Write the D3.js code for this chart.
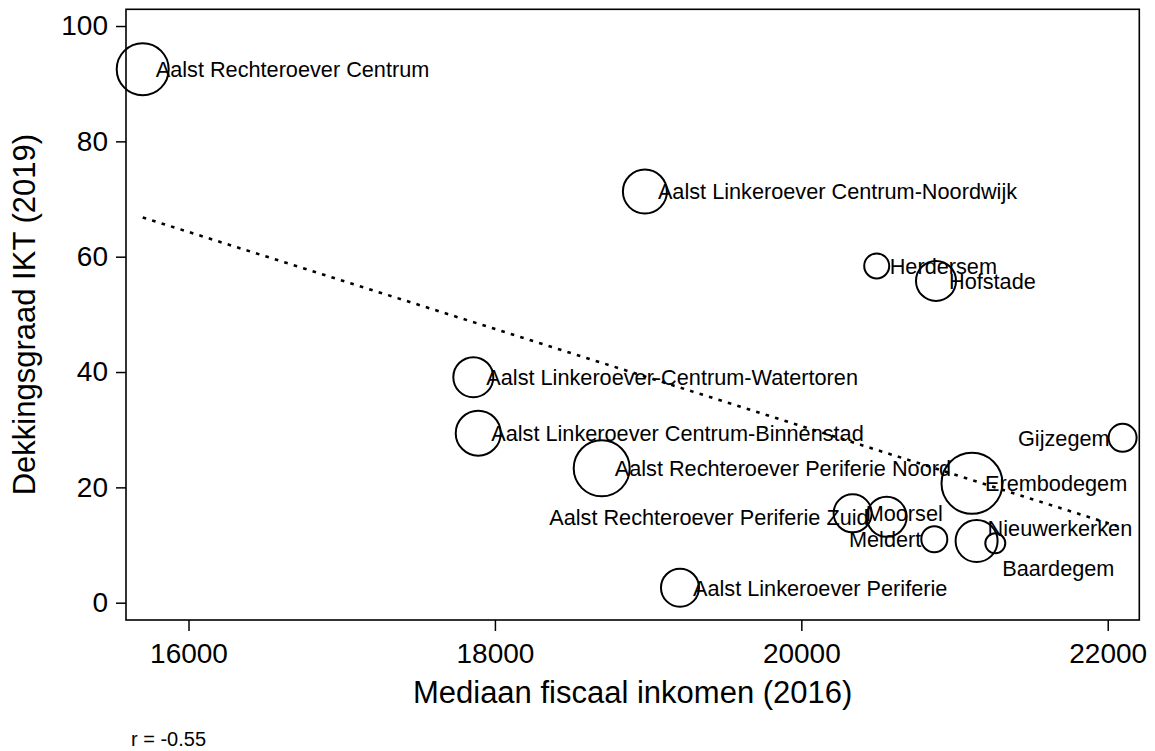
<!DOCTYPE html>
<html lang="nl">
<head>
<meta charset="UTF-8">
<title>Dekkingsgraad IKT vs mediaan fiscaal inkomen</title>
<script src="https://cdn.jsdelivr.net/npm/d3@7"></script>
<style>
  html, body { margin: 0; padding: 0; background: #fff; }
  svg { display: block; font-family: Arial, "Liberation Sans", sans-serif; }
</style>
</head>
<body>
<div id="chart"></div>
<script>
// data
const names = [
  "Aalst Rechteroever Centrum",
  "Aalst Linkeroever Centrum-Noordwijk",
  "Herdersem",
  "Hofstade",
  "Aalst Linkeroever-Centrum-Watertoren",
  "Aalst Linkeroever Centrum-Binnenstad",
  "Aalst Rechteroever Periferie Noord",
  "Aalst Rechteroever Periferie Zuid",
  "Moorsel",
  "Meldert",
  "Nieuwerkerken",
  "Baardegem",
  "Erembodegem",
  "Gijzegem",
  "Aalst Linkeroever Periferie"
];
const income   = [15701, 18979, 20492, 20879, 17859, 17891, 18697, 20557, 20335, 20868, 21144, 21266, 21114, 22097, 19208];
const coverage = [92.5, 71.3, 58.4, 55.8, 39.1, 29.4, 23.3, 14.9, 15.5, 11.0, 10.7, 10.3, 20.7, 28.6, 2.6];
const weight   = [6760, 4840, 1560, 4000, 4000, 5060, 7840, 4000, 3610, 1690, 4410, 1000, 9300, 1960, 3610];
// marker label clock position (Stata style)
const labelPos = [3, 3, 3, 3, 3, 3, 3, 9, 3, 9, 2, 5, 3, 9, 3];

const xTicks = [16000, 18000, 20000, 22000];
const yTicks = [0, 20, 40, 60, 80, 100];
const xDomain = [15592, 22206];
const yDomain = [-3.0, 102.9];

const W = 1155, H = 751;
const margin = { top: 9.3, right: 15.7, bottom: 131, left: 126 };
const iw = W - margin.left - margin.right;
const ih = H - margin.top - margin.bottom;

const svg = d3.select("#chart").append("svg")
  .attr("width", W)
  .attr("height", H);

const g = svg.append("g")
  .attr("transform", `translate(${margin.left},${margin.top})`);

const x = d3.scaleLinear().domain(xDomain).range([0, iw]);
const y = d3.scaleLinear().domain(yDomain).range([ih, 0]);
const r = d3.scaleSqrt().domain([0, d3.max(weight)]).range([0, 30.5]);

const points = names.map((n, i) => ({
  name: n, x: income[i], y: coverage[i], w: weight[i], pos: labelPos[i]
}));

// axes
const yAxis = g.append("g")
  .call(d3.axisLeft(y).tickValues(yTicks).tickSize(10).tickPadding(8));
const xAxis = g.append("g")
  .attr("transform", `translate(0,${ih})`)
  .call(d3.axisBottom(x).tickValues(xTicks).tickFormat(d3.format("d")).tickSize(11).tickPadding(12));

[xAxis, yAxis].forEach(a => {
  a.select(".domain").remove();
  a.selectAll(".tick line").attr("stroke", "#000").attr("stroke-width", 1.5);
  a.selectAll(".tick text")
    .attr("fill", "#000")
    .style("font-size", "28px")
    .style("font-family", "Arial, 'Liberation Sans', sans-serif");
});

// plot frame
g.append("rect")
  .attr("x", 0).attr("y", 0)
  .attr("width", iw).attr("height", ih)
  .attr("fill", "none")
  .attr("stroke", "#000")
  .attr("stroke-width", 1.6);

// bubbles
g.selectAll(".bubble")
  .data(points)
  .enter()
  .append("circle")
  .attr("class", "bubble")
  .attr("cx", d => x(d.x))
  .attr("cy", d => y(d.y))
  .attr("r", d => r(d.w))
  .attr("fill", "none")
  .attr("stroke", "#000")
  .attr("stroke-width", 2);

// label offsets per clock position
const offsets = {
  2: { dx: 11, dy: -13, anchor: "start" },
  3: { dx: 13, dy: 0, anchor: "start" },
  5: { dx: 7, dy: 25, anchor: "start" },
  9: { dx: -13, dy: 0, anchor: "end" }
};
// Zuid label sits a bit further from its marker
const gapFix = { "Aalst Rechteroever Periferie Zuid": -5 };

g.selectAll(".lbl")
  .data(points)
  .enter()
  .append("text")
  .attr("class", "lbl")
  .attr("x", d => x(d.x) + offsets[d.pos].dx + (gapFix[d.name] || 0))
  .attr("y", d => y(d.y) + offsets[d.pos].dy)
  .attr("dy", "0.36em")
  .attr("text-anchor", d => offsets[d.pos].anchor)
  .style("font-size", "21.7px")
  .attr("fill", "#000")
  .text(d => d.name);

// linear fit (OLS) + correlation
const mx = d3.mean(income), my = d3.mean(coverage);
let sxy = 0, sxx = 0, syy = 0;
income.forEach((v, i) => {
  sxy += (v - mx) * (coverage[i] - my);
  sxx += (v - mx) * (v - mx);
  syy += (coverage[i] - my) * (coverage[i] - my);
});
const slope = sxy / sxx;
const icpt = my - slope * mx;
const corr = sxy / Math.sqrt(sxx * syy);
const xr = d3.extent(income);

g.append("path")
  .datum(xr)
  .attr("d", d3.line().x(d => x(d)).y(d => y(icpt + slope * d)))
  .attr("fill", "none")
  .attr("stroke", "#000")
  .attr("stroke-width", 2.6)
  .attr("stroke-dasharray", "3.6,6.3");

// axis titles
svg.append("text")
  .attr("x", margin.left + iw / 2)
  .attr("y", 702.5)
  .attr("text-anchor", "middle")
  .style("font-size", "31px")
  .text("Mediaan fiscaal inkomen (2016)");

svg.append("text")
  .attr("transform", `translate(35,${margin.top + ih / 2}) rotate(-90)`)
  .attr("text-anchor", "middle")
  .style("font-size", "31px")
  .text("Dekkingsgraad IKT (2019)");

svg.append("text")
  .attr("x", 131)
  .attr("y", 746)
  .style("font-size", "20px")
  .text("r = " + corr.toFixed(2));
</script>
</body>
</html>
